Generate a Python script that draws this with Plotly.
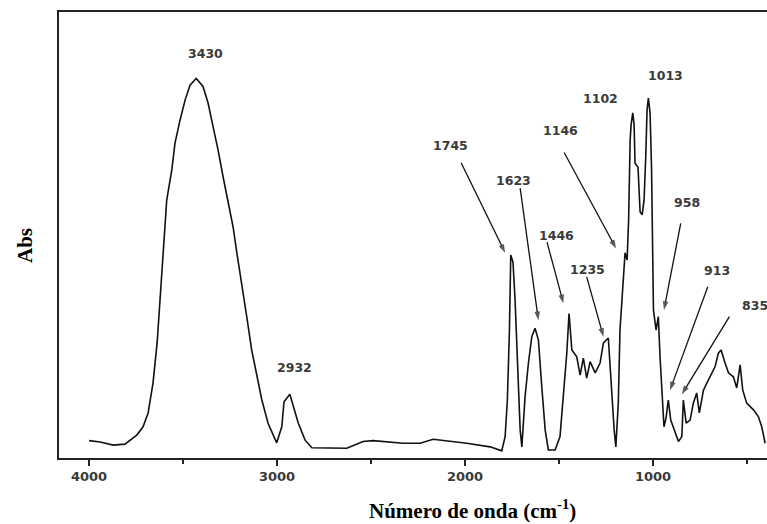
import plotly.graph_objects as go

# FTIR spectrum (wavenumber, cm-1) and absorbance (arbitrary units)
wavenumber = [4000, 3941, 3872, 3809, 3745, 3713, 3686, 3660, 3638, 3622, 3604, 3587, 3560, 3543,
              3516, 3489, 3463, 3430, 3394, 3367, 3340, 3314, 3287, 3261, 3234, 3214, 3188, 3161,
              3135, 3108, 3081, 3048, 3002, 2975, 2963, 2932, 2913, 2887, 2851, 2815, 2629, 2543,
              2489, 2330, 2239, 2170, 1991, 1867, 1805, 1787, 1775, 1764, 1757, 1745, 1734, 1722,
              1707, 1698, 1681, 1663, 1645, 1628, 1610, 1592, 1574, 1557, 1521, 1495, 1477, 1459,
              1447, 1432, 1406, 1388, 1371, 1353, 1335, 1308, 1282, 1264, 1238, 1220, 1207, 1198,
              1185, 1176, 1158, 1149, 1138, 1130, 1122, 1117, 1108, 1101, 1096, 1080, 1072, 1069,
              1058, 1048, 1039, 1032, 1025, 1016, 1008, 1004, 998, 984, 972, 963, 948, 942, 931,
              919, 906, 892, 865, 847, 839, 824, 803, 786, 768, 754, 732, 714, 688, 670, 653, 638,
              617, 599, 573, 555, 537, 523, 502, 466, 440, 422, 404]
absorbance = [0.039, 0.036, 0.029, 0.031, 0.052, 0.070, 0.101, 0.168, 0.258, 0.354, 0.455, 0.578,
              0.646, 0.706, 0.758, 0.803, 0.836, 0.851, 0.833, 0.796, 0.742, 0.691, 0.630, 0.572,
              0.518, 0.460, 0.392, 0.316, 0.242, 0.182, 0.130, 0.078, 0.034, 0.070, 0.126, 0.143,
              0.114, 0.078, 0.040, 0.023, 0.022, 0.037, 0.039, 0.033, 0.033, 0.042, 0.033, 0.025,
              0.016, 0.048, 0.130, 0.287, 0.455, 0.439, 0.354, 0.213, 0.063, 0.025, 0.137, 0.213,
              0.272, 0.291, 0.265, 0.160, 0.063, 0.018, 0.018, 0.048, 0.137, 0.235, 0.324, 0.242,
              0.227, 0.186, 0.224, 0.179, 0.216, 0.191, 0.213, 0.258, 0.269, 0.137, 0.063, 0.025,
              0.123, 0.287, 0.407, 0.460, 0.444, 0.534, 0.713, 0.747, 0.774, 0.747, 0.661, 0.652,
              0.578, 0.552, 0.545, 0.578, 0.675, 0.780, 0.807, 0.774, 0.646, 0.556, 0.332, 0.287,
              0.317, 0.227, 0.101, 0.070, 0.090, 0.130, 0.085, 0.070, 0.037, 0.048, 0.130, 0.078,
              0.085, 0.123, 0.146, 0.101, 0.152, 0.168, 0.191, 0.205, 0.235, 0.242, 0.213, 0.191,
              0.182, 0.157, 0.209, 0.152, 0.123, 0.108, 0.093, 0.070, 0.033]

# Peak labels: text, label position (wavenumber, abs)
peak_labels = ["3430", "2932", "1745", "1623", "1446", "1235", "1146", "1102", "1013", "958", "913", "835"]
label_x = [3383, 2910, 2080, 1745, 1512, 1348, 1493, 1282, 936, 821, 661, 457]
label_y = [0.906, 0.202, 0.700, 0.623, 0.500, 0.422, 0.734, 0.807, 0.857, 0.572, 0.420, 0.341]

# Arrows: tail (wavenumber, abs) -> head (wavenumber, abs)
arrow_tail_x = [2021, 1707, 1564, 1353, 1473, 853, 709, 594]
arrow_tail_y = [0.662, 0.605, 0.484, 0.406, 0.685, 0.526, 0.384, 0.317]
arrow_head_x = [1787, 1610, 1477, 1264, 1197, 942, 910, 847]
arrow_head_y = [0.460, 0.309, 0.347, 0.272, 0.470, 0.332, 0.152, 0.143]

major_ticks = [4000, 3000, 2000, 1000]
major_labels = ["4000", "3000", "2000", "1000"]
minor_ticks = [3500, 2500, 1500, 500]

fig = go.Figure()
fig.add_trace(go.Scatter(x=wavenumber, y=absorbance, mode="lines",
                         line=dict(color="#111111", width=1.6), showlegend=False,
                         hoverinfo="skip"))

# arrows drawn as short line traces ending in an arrow marker
for tx, ty, hx, hy in zip(arrow_tail_x, arrow_tail_y, arrow_head_x, arrow_head_y):
    fig.add_trace(go.Scatter(x=[tx, hx], y=[ty, hy], mode="lines+markers",
                             line=dict(color="#111111", width=1.3),
                             marker=dict(symbol=["circle", "arrow"], size=[0, 9],
                                         angleref="previous", color="#111111",
                                         line=dict(width=0)),
                             showlegend=False, hoverinfo="skip"))

ann = []
for t, x, y in zip(peak_labels, label_x, label_y):
    ann.append(dict(x=x, y=y, xref="x", yref="y", text=t, showarrow=False,
                    font=dict(family="DejaVu Sans", size=12.5, color="#3a3a3a", weight="bold"),
                    xanchor="center", yanchor="middle"))

ann.append(dict(x=(472 - 59) / 708, y=(458 - 509) / 446, xref="paper", yref="paper",
                text="Número de onda (cm<sup>-1</sup>)", showarrow=False,
                font=dict(family="Liberation Serif", size=21, color="#000000", weight="bold"),
                xanchor="center", yanchor="middle"))
ann.append(dict(x=(25 - 59) / 708, y=(458 - 246) / 446, xref="paper", yref="paper",
                text="Abs", showarrow=False, textangle=-90,
                font=dict(family="Liberation Serif", size=21, color="#000000", weight="bold"),
                xanchor="center", yanchor="middle"))

fig.update_layout(
    width=767, height=524,
    margin=dict(l=59, r=0, t=12, b=66),
    paper_bgcolor="white", plot_bgcolor="white",
    annotations=ann,
    xaxis=dict(range=[4160, 394], showgrid=False, zeroline=False,
               showline=True, linecolor="#222222", linewidth=1.6, mirror=True,
               tickmode="array", tickvals=major_ticks, ticktext=major_labels,
               ticks="outside", ticklen=6, tickwidth=1.5, tickcolor="#222222",
               tickfont=dict(family="DejaVu Sans", size=13, color="#3a3a3a", weight="bold"),
               minor=dict(tickmode="array", tickvals=minor_ticks, ticks="outside",
                          ticklen=4, tickwidth=1.5, tickcolor="#222222")),
    yaxis=dict(range=[0, 1], showgrid=False, zeroline=False, showticklabels=False,
               showline=True, linecolor="#222222", linewidth=1.6, mirror=False, ticks=""),
)

fig.write_html("out.html")
